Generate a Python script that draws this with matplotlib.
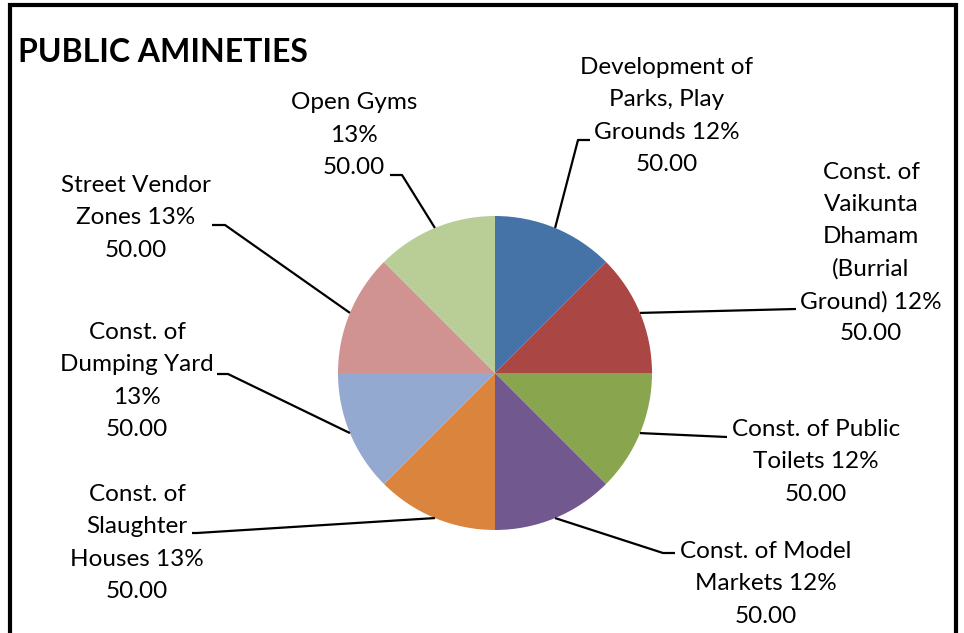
import numpy as np
import matplotlib.pyplot as plt

# data
names = ["Development of\nParks, Play\nGrounds",
         "Const. of\nVaikunta\nDhamam\n(Burrial\nGround)",
         "Const. of Public\nToilets",
         "Const. of Model\nMarkets",
         "Const. of\nSlaughter\nHouses",
         "Const. of\nDumping Yard",
         "Street Vendor\nZones",
         "Open Gyms"]
values = [50.00, 50.00, 50.00, 50.00, 50.00, 50.00, 50.00, 50.00]
pcts = [12, 12, 12, 12, 13, 13, 13, 13]
colors = ["#4572A7", "#AA4643", "#89A54E", "#71588F",
          "#DB843D", "#93A9CF", "#D19392", "#B9CD96"]
pct_own_line = ["Const. of\nDumping Yard", "Open Gyms"]

# layout (pixel coordinates, y measured from top)
W, H = 964, 633
cx, cy, R = 495, 373, 157
text_pos = [(667, 116), (871, 253), (816, 462), (766, 584),
            (137, 543), (137, 381), (136, 218), (354, 135)]
elbows = [[(578, 140), (590, 140)],
          [(796, 309)],
          [(727, 437)],
          [(663, 553), (675, 553)],
          [(197, 533), (192, 533)],
          [(228, 374), (217, 374)],
          [(225, 225), (212, 225)],
          [(402, 175), (390, 175)]]

plt.rcParams['font.family'] = ['Lato', 'DejaVu Sans']

fig = plt.figure(figsize=(W / 100, H / 100), dpi=100)
ax = fig.add_axes([0, 0, 1, 1])

wedges, _ = ax.pie(values, colors=colors, startangle=90, counterclock=False,
                   center=(cx, H - cy), radius=R, frame=True,
                   wedgeprops=dict(linewidth=0))
ax.set_xlim(0, W)
ax.set_ylim(0, H)
ax.set_aspect('equal')
ax.axis('off')

for i, w in enumerate(wedges):
    ang = np.deg2rad((w.theta1 + w.theta2) / 2)
    px = cx + R * np.cos(ang)
    py = H - cy + R * np.sin(ang)
    xs = [px] + [p[0] for p in elbows[i]]
    ys = [py] + [H - p[1] for p in elbows[i]]
    ax.plot(xs, ys, color='black', lw=1.6, solid_capstyle='butt')
    sep = "\n" if names[i] in pct_own_line else " "
    label = f"{names[i]}{sep}{pcts[i]}%\n{values[i]:.2f}"
    tx, ty = text_pos[i]
    ax.text(tx, H - ty, label, ha='center', va='center', fontsize=17.5,
            linespacing=1.65, color='black')

ax.text(18, H - 52, "PUBLIC AMINETIES", ha='left', va='center',
        fontsize=23, fontweight='bold', color='black')

# chart border
ax.plot([10, 10, 956, 956], [-5, H - 5, H - 5, -5], color='black', lw=3,
        solid_joinstyle='miter')

fig.savefig('out.png', dpi=100)
